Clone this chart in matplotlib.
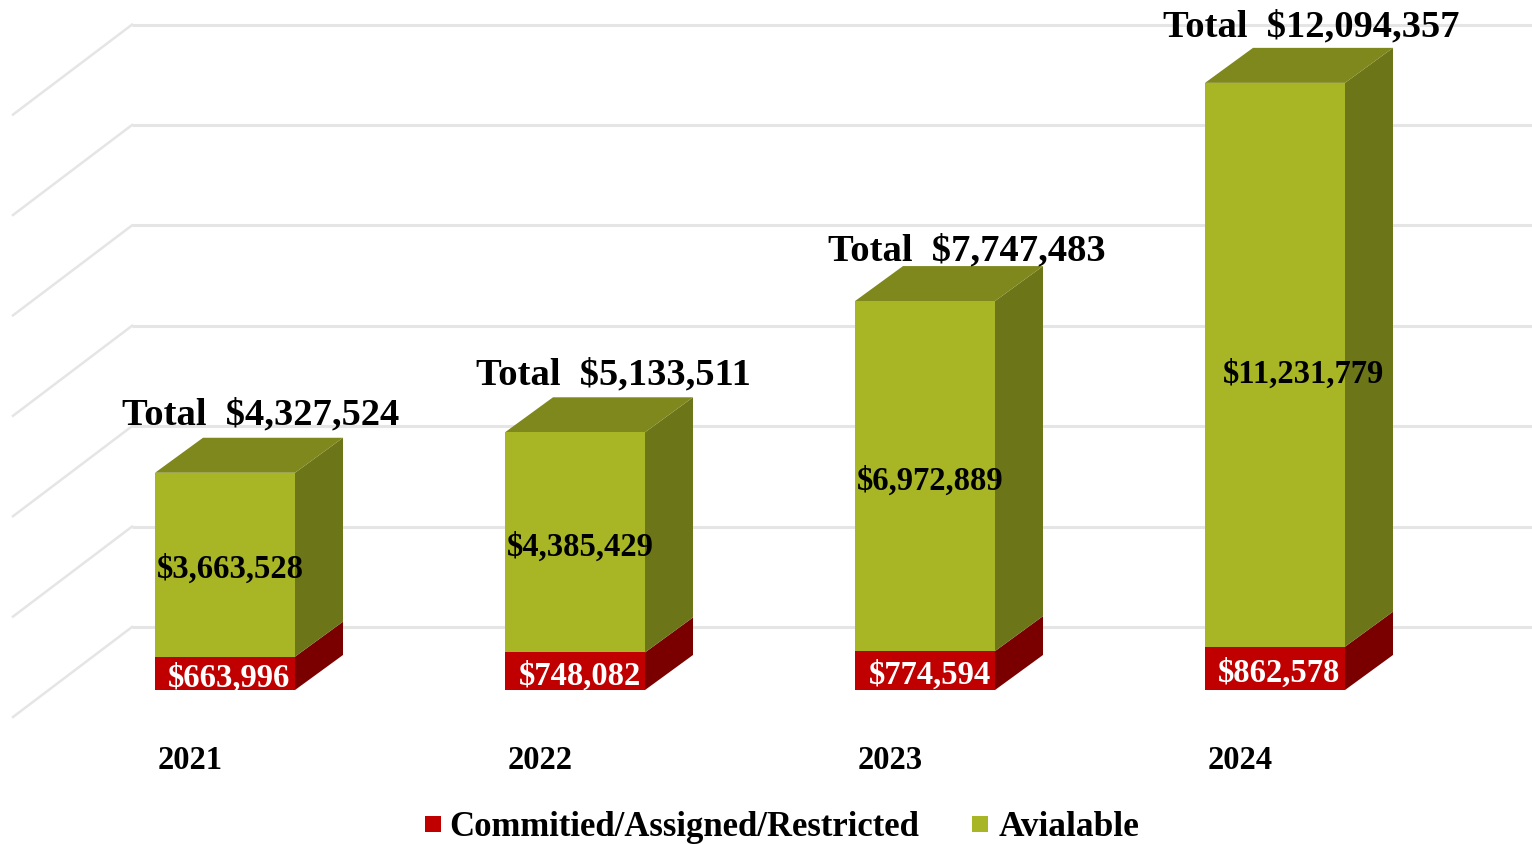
import numpy as np
import matplotlib
matplotlib.use("Agg")
import matplotlib.pyplot as plt

years = ['2021', '2022', '2023', '2024']
committed = [663996, 748082, 774594, 862578]
available = [3663528, 4385429, 6972889, 11231779]
totals = [4327524, 5133511, 7747483, 12094357]
grid_values = [0, 2000000, 4000000, 6000000, 8000000, 10000000, 12000000]

RED = ('#c00000', '#7a0000')
GREEN = ('#a8b525', '#7f881c', '#6c7518')

plt.rcParams['font.family'] = ['Liberation Serif', 'DejaVu Serif']
plt.rcParams['font.weight'] = 'bold'

# scale of the picture: 350 px per category, 50.2 px per million
PX_X = 1 / 350
PX_Y = 1e6 / 50.2

# label nudges in px, per bar
total_dx = [36, 38.5, 42, 36]
total_lift = [59, 58.5, 51, 56.5]
avail_dx = [5, 5, 5, 28]
avail_dy = [-4, -4, -4.5, -8.5]

fig = plt.figure(figsize=(15.32, 8.45), dpi=100)
ax = fig.add_axes([0, 0, 1, 1])
ax.set_xlim(-225 * PX_X, (1532 - 225) * PX_X)
ax.set_ylim(-154 * PX_Y, 691 * PX_Y)
ax.axis('off')

half_w = 70 * PX_X
depth_x = 48 * PX_X
depth_y = 35 * PX_Y


def draw_wall():
    # back wall lines run right, side wall lines run down to the front
    for v in grid_values:
        y = v + 63 * PX_Y
        ax.plot([-93 * PX_X, (1532 - 225) * PX_X], [y, y], color='#e5e5e5', lw=2.2, zorder=1,
                solid_capstyle='butt')
        ax.plot([-212 * PX_X, -93 * PX_X], [y - 90 * PX_Y, y], color='#e5e5e5', lw=1.8, zorder=1)


def draw_block(x, bottom, height, front, side, top=None):
    left, right = x - half_w, x + half_w
    y0, y1 = bottom, bottom + height
    ax.fill([right, right + depth_x, right + depth_x, right],
            [y0, y0 + depth_y, y1 + depth_y, y1], color=side, lw=0, zorder=3)
    ax.fill([left, right, right, left], [y0, y0, y1, y1], color=front, lw=0, zorder=4)
    if top is not None:
        ax.fill([left, right, right + depth_x, left + depth_x],
                [y1, y1, y1 + depth_y, y1 + depth_y], color=top, lw=0, zorder=3)


draw_wall()
for i in range(len(years)):
    draw_block(i, 0, committed[i], RED[0], RED[1])
    draw_block(i, committed[i], available[i], GREEN[0], GREEN[2], GREEN[1])

    ax.text(i + 4.5 * PX_X, committed[i] / 2 - 4 * PX_Y, f'${committed[i]:,}', color='white',
            fontsize=23.5, ha='center', va='center', zorder=5)
    ax.text(i + avail_dx[i] * PX_X, committed[i] + available[i] / 2 + avail_dy[i] * PX_Y,
            f'${available[i]:,}', color='black', fontsize=23.5, ha='center', va='center', zorder=5)
    ax.text(i + total_dx[i] * PX_X, totals[i] + total_lift[i] * PX_Y, f'Total  ${totals[i]:,}',
            color='black', fontsize=27.7, ha='center', va='center', zorder=5)
    ax.text(i - 35 * PX_X, -70 * PX_Y, years[i], color='black', fontsize=23.5,
            ha='center', va='center', zorder=5)

# legend
ax.scatter([(433 - 225) * PX_X, (980 - 225) * PX_X], [-134 * PX_Y, -134 * PX_Y], marker='s',
           s=132, c=[RED[0], GREEN[0]], lw=0, zorder=5)
ax.text((449 - 225) * PX_X, -137 * PX_Y, 'Commitied/Assigned/Restricted', fontsize=25,
        ha='left', va='center', color='black')
ax.text((999 - 225) * PX_X, -137 * PX_Y, 'Avialable', fontsize=25.5,
        ha='left', va='center', color='black')

fig.savefig('out.png', dpi=100)
